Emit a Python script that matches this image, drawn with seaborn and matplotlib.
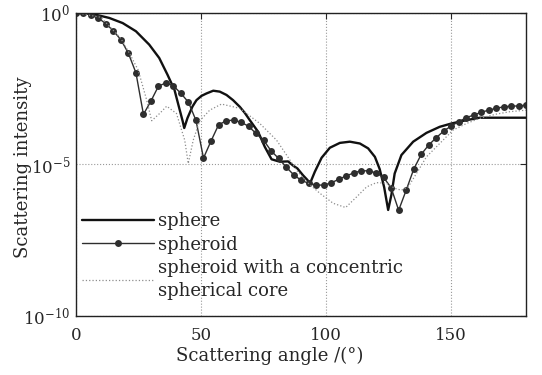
import numpy as np
import pandas as pd
import seaborn as sns
import matplotlib
import matplotlib.pyplot as plt

matplotlib.use('Agg')

# Sphere (thick solid line): angle in degrees, log10 of intensity
sphere_angle = [0, 6.7, 13.3, 18.7, 24.0, 29.3, 33.3, 36.6, 39.4, 41.3, 42.7, 43.3,
                44.6, 46.6, 48.2, 50.2, 52.2, 54.9, 57.5, 60.2, 62.8, 65.5, 67.5,
                69.5, 72.8, 75.5, 78.2, 81.5, 84.8, 87.0, 88.5, 90.8, 92.4, 93.6,
                95.5, 98.2, 101.5, 105.5, 109.5, 113.5, 116.8, 119.5, 121.4, 123.2,
                124.8, 126.1, 127.4, 130.1, 134.8, 140.1, 145.4, 150.1, 156.1,
                161.4, 180]
sphere_log = [0, -0.04, -0.17, -0.34, -0.61, -1.05, -1.49, -2.04, -2.54, -3.14, -3.58,
              -3.80, -3.47, -3.09, -2.88, -2.74, -2.66, -2.57, -2.60, -2.71, -2.88,
              -3.10, -3.30, -3.54, -3.92, -4.42, -4.83, -4.91, -4.90, -5.05, -5.13,
              -5.36, -5.50, -5.62, -5.24, -4.78, -4.45, -4.29, -4.25, -4.31, -4.47,
              -4.75, -5.15, -5.75, -6.50, -6.00, -5.30, -4.69, -4.25, -3.96, -3.76,
              -3.65, -3.54, -3.46, -3.46]

# Spheroid (thin line with markers every 3 degrees)
spheroid_angle = [0, 3, 6, 9, 12, 15, 18, 21, 24, 27, 30, 33, 36, 39, 42, 45, 48, 51,
                  54, 57, 60, 63, 66, 69, 72, 75, 78, 81, 84, 87, 90, 93, 96, 99,
                  102, 105, 108, 111, 114, 117, 120, 123, 126, 129, 132, 135, 138,
                  141, 144, 147, 150, 153, 156, 159, 162, 165, 168, 171, 174, 177, 180]
spheroid_log = [0, 0, -0.08, -0.18, -0.36, -0.60, -0.89, -1.34, -1.98, -3.35, -2.91,
                -2.42, -2.31, -2.41, -2.66, -2.95, -3.55, -4.79, -4.23, -3.70, -3.56,
                -3.54, -3.61, -3.74, -3.98, -4.20, -4.55, -4.80, -5.08, -5.34, -5.52,
                -5.62, -5.68, -5.68, -5.61, -5.49, -5.38, -5.28, -5.21, -5.21, -5.28,
                -5.43, -5.77, -6.51, -5.85, -5.16, -4.67, -4.36, -4.12, -3.90, -3.73,
                -3.59, -3.46, -3.37, -3.28, -3.21, -3.15, -3.10, -3.08, -3.07, -3.05]

# Spheroid with a concentric spherical core (dotted grey)
core_angle = [0, 10, 18, 21.5, 24.9, 28.3, 30.3, 33.6, 36.3, 40.2, 43.5, 44.9, 46.9,
              49.5, 53.5, 58.2, 65.5, 73.5, 80.2, 84.2, 88.2, 92.2, 97.5, 102.8,
              107.8, 112.2, 116.2, 120.1, 124.1, 127.5, 130.1, 132.8, 136.1, 140.1,
              145.4, 150.7, 156.1, 161.4, 168.1, 173.5, 180]
core_log = [0, -0.15, -0.85, -1.35, -1.89, -2.88, -3.56, -3.31, -3.08, -3.32, -4.20,
            -4.97, -4.20, -3.56, -3.21, -3.01, -3.15, -3.65, -4.20, -4.69, -5.19,
            -5.57, -5.95, -6.28, -6.42, -6.07, -5.74, -5.60, -5.62, -5.79, -5.85,
            -5.74, -5.30, -4.75, -4.31, -3.87, -3.65, -3.48, -3.34, -3.26, -3.21]

sphere = pd.DataFrame({'angle': sphere_angle, 'I': 10.0 ** np.array(sphere_log)})
spheroid = pd.DataFrame({'angle': spheroid_angle, 'I': 10.0 ** np.array(spheroid_log)})
core = pd.DataFrame({'angle': core_angle, 'I': 10.0 ** np.array(core_log)})

sns.set_style("white")
plt.rcParams['font.family'] = ['DejaVu Serif']
plt.rcParams['mathtext.fontset'] = 'dejavuserif'

fig = plt.figure(figsize=(5.42, 3.75), dpi=100)
ax = fig.add_axes([0.140, 0.157, 0.831, 0.809])

sns.lineplot(data=sphere, x='angle', y='I', ax=ax, color='#111111', linewidth=1.7,
             label='sphere')
sns.lineplot(data=spheroid, x='angle', y='I', ax=ax, color='#2e2e2e', linewidth=1.0,
             marker='o', markersize=5, markeredgewidth=0, label='spheroid')
sns.lineplot(data=core, x='angle', y='I', ax=ax, color='#8c8c8c', linewidth=0.9,
             linestyle=':', label='spheroid with a concentric\nspherical core')

ax.set_yscale('log')
ax.set_xlim(0, 180)
ax.set_ylim(1e-10, 1)
ax.set_xticks([0, 50, 100, 150])
ax.set_yticks([1e-10, 1e-5, 1])
ax.yaxis.set_minor_locator(matplotlib.ticker.NullLocator())
ax.tick_params(direction='in', top=True, right=True, length=4, labelsize=12,
               width=0.8)
ax.tick_params(axis='x', pad=7.5)
ax.tick_params(axis='y', pad=4)
ax.grid(True, linestyle=':', color='#999999', linewidth=0.8)

for sp in ax.spines.values():
    sp.set_linewidth(1.0)
    sp.set_color('#222222')

ax.set_xlabel('Scattering angle /(°)', fontsize=13)
ax.set_ylabel('Scattering intensity', fontsize=13)
ax.xaxis.set_label_coords(0.4295, -0.100)
ax.yaxis.set_label_coords(-0.097, 0.49)

leg = ax.legend(loc='upper left', bbox_to_anchor=(0.0133, 0.342), frameon=False,
                fontsize=13, handlelength=4.0, handletextpad=0.19, labelspacing=0.29,
                borderpad=0, borderaxespad=0)
for t in leg.get_texts():
    t.set_linespacing(1.38)

fig.savefig('out.png', dpi=100)
